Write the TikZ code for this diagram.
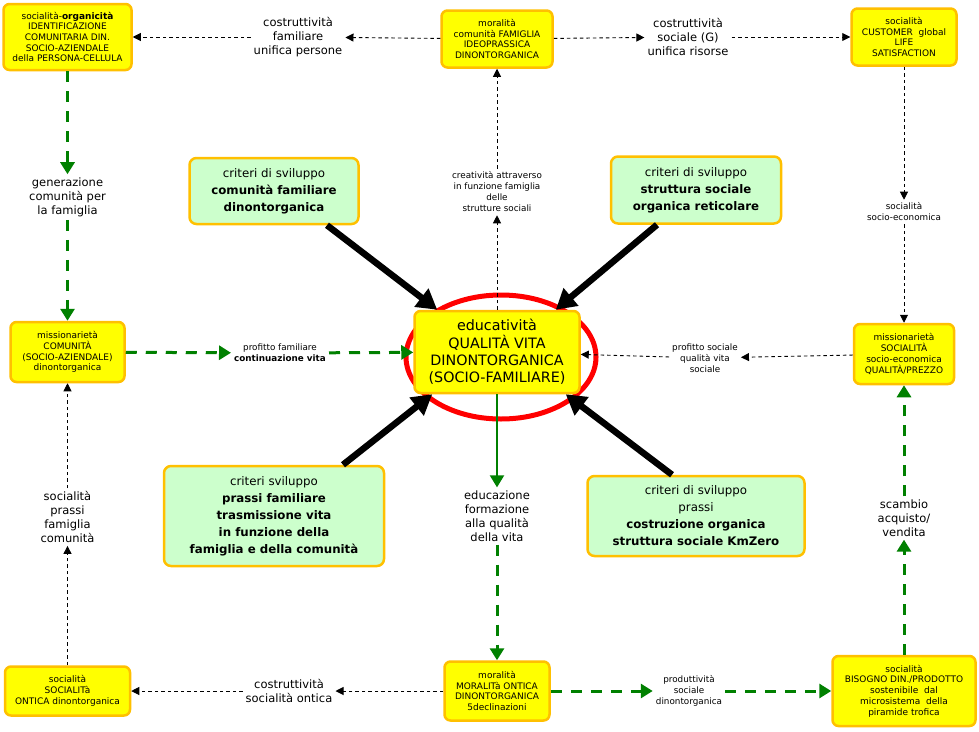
\documentclass[tikz,border=0pt]{standalone}
\usepackage{fontspec}
\setmainfont{DejaVu Sans}
\usetikzlibrary{arrows.meta}
\definecolor{ybord}{HTML}{FFC000}
\definecolor{yfill}{HTML}{FFFF00}
\definecolor{gfill}{HTML}{CCFFCC}
\definecolor{garrow}{HTML}{008000}
\definecolor{ered}{HTML}{FF0000}
\tikzset{
  ybox/.style={draw=ybord, fill=yfill, line width=2.5pt, rounded corners=6pt, align=center, inner sep=1pt, font=\fontsize{9}{10.7}\selectfont},
  gbox/.style={draw=ybord, fill=gfill, line width=2.5pt, rounded corners=7pt, align=center, inner sep=1pt, font=\fontsize{11.8}{17}\selectfont},
  cbox/.style={draw=ybord, fill=yfill, line width=2.5pt, rounded corners=6pt, align=center, inner sep=1pt, font=\fontsize{14.3}{17.3}\selectfont},
  lab/.style={align=center, inner sep=3pt, font=\fontsize{11.5}{14}\selectfont},
  slab/.style={align=center, inner sep=3pt, font=\fontsize{8.8}{11}\selectfont},
  blk/.style={black, line width=0.9pt, dash pattern=on 3.5pt off 3pt},
  blkarr/.style={blk, -{Triangle[length=8pt,width=8pt]}},
  grn/.style={garrow, line width=3pt, dash pattern=on 11pt off 9pt},
  grnarr/.style={grn, -{Triangle[length=12pt,width=14pt]}},
  grnsolid/.style={garrow, line width=2pt, -{Triangle[length=12pt,width=14pt]}},
  big/.style={black, line width=6.5pt, -{Triangle[length=20pt,width=22pt]}}
}
\begin{document}
\begin{tikzpicture}[x=1pt,y=-1pt]
\useasboundingbox (0,0) rectangle (979,731);
\fill[white] (0,0) rectangle (979,731);

% ellipse around centre
\draw[ered, line width=5pt] (501,357) ellipse [x radius=95, y radius=62];

% yellow boxes
\node[ybox, minimum width=128, minimum height=66] (tl) at (67.5,37)
  {socialità-\textbf{organicità}\\IDENTIFICAZIONE\\COMUNITARIA DIN.\\SOCIO-AZIENDALE\\della PERSONA-CELLULA};
\node[ybox, minimum width=111, minimum height=57] (tm) at (497,39)
  {moralità\\comunità FAMIGLIA\\IDEOPRASSICA\\DINONTORGANICA};
\node[ybox, minimum width=105, minimum height=57] (tr) at (904,37)
  {socialità\\CUSTOMER~ global\\LIFE\\SATISFACTION};
\node[ybox, minimum width=114, minimum height=60] (ml) at (67.5,352)
  {missionarietà\\COMUNITÀ\\(SOCIO-AZIENDALE)\\dinontorganica};
\node[ybox, minimum width=100, minimum height=60] (mr) at (904,354)
  {missionarietà\\SOCIALITÀ\\socio-economica\\QUALITÀ/PREZZO};
\node[ybox, minimum width=125, minimum height=49] (bl) at (67.5,691)
  {socialità\\SOCIALITà\\ONTICA dinontorganica};
\node[ybox, minimum width=105, minimum height=59] (bm) at (497,691)
  {moralità\\MORALITà ONTICA\\DINONTORGANICA\\5declinazioni};
\node[ybox, minimum width=143, minimum height=70] (br) at (904,691)
  {socialità\\BISOGNO DIN./PRODOTTO\\sostenibile~ dal\\microsistema~ della\\piramide trofica};
\node[cbox, minimum width=165, minimum height=82] (c) at (497,352)
  {educatività\\QUALITÀ VITA\\DINONTORGANICA\\(SOCIO-FAMILIARE)};

% green boxes
\node[gbox, minimum width=169, minimum height=66] (g1) at (274,191)
  {criteri di sviluppo\\\textbf{comunità familiare}\\\textbf{dinontorganica}};
\node[gbox, minimum width=170, minimum height=67] (g2) at (696,190)
  {criteri di sviluppo\\\textbf{struttura sociale}\\\textbf{organica reticolare}};
\node[gbox, minimum width=220, minimum height=100] (g3) at (274,516)
  {criteri sviluppo\\\textbf{prassi familiare}\\\textbf{trasmissione vita}\\\textbf{in funzione della}\\\textbf{famiglia e della comunità}};
\node[gbox, minimum width=217, minimum height=80] (g4) at (696,516)
  {criteri di sviluppo\\prassi\\\textbf{costruzione organica}\\\textbf{struttura sociale KmZero}};

% labels
\node[lab] (l1) at (298,37) {costruttività\\familiare\\unifica persone};
\node[lab] (l2) at (688,37) {costruttività\\sociale (G)\\unifica risorse};
\node[lab] (l3) at (67.5,197) {generazione\\comunità per\\la famiglia};
\node[slab] (l4) at (280,353) {profitto familiare\\\textbf{continuazione vita}};
\node[slab] (l5) at (705,358) {profitto sociale\\qualità vita\\sociale};
\node[slab] (l6) at (497,192) {creatività attraverso\\in funzione famiglia\\delle\\strutture sociali};
\node[slab] (l7) at (904,212) {socialità\\socio-economica};
\node[lab] (l8) at (67.5,517) {socialità\\prassi\\famiglia\\comunità};
\node[lab] (l9) at (904,518) {scambio\\acquisto/\\vendita};
\node[lab] (l10) at (497,516) {educazione\\formazione\\alla qualità\\della vita};
\node[lab] (l11) at (289,691) {costruttività\\socialità ontica};
\node[slab] (l12) at (689,691) {produttività\\sociale\\dinontorganica};

% black dashed connectors
\draw[blkarr] (tm) -- (l1);
\draw[blkarr] (l1) -- (tl);
\draw[blkarr] (tm) -- (l2);
\draw[blkarr] (l2) -- (tr);
\draw[blkarr] (c) -- (l6);
\draw[blkarr] (l6) -- (tm);
\draw[blkarr] (tr) -- (l7);
\draw[blkarr] (l7) -- (mr);
\draw[blkarr] (mr) -- (l5);
\draw[blkarr] (l5) -- (c);
\draw[blkarr] (bl) -- (l8);
\draw[blkarr] (l8) -- (ml);
\draw[blkarr] (bm) -- (l11);
\draw[blkarr] (l11) -- (bl);

% green connectors
\draw[grnarr] (tl) -- (l3);
\draw[grnarr] (l3) -- (ml);
\draw[grnarr] (ml) -- (l4);
\draw[grnarr] (l4) -- (c);
\draw[grnsolid] (c) -- (l10);
\draw[grnarr] (l10) -- (bm);
\draw[grnarr] (bm) -- (l12);
\draw[grnarr] (l12) -- (br);
\draw[grnarr] (br) -- (l9);
\draw[grnarr] (l9) -- (mr);

% big black arrows
\draw[big] ([xshift=53pt]g1.south) -- ([xshift=24pt]c.north west);
\draw[big] ([xshift=-39pt]g2.south) -- ([xshift=-25pt]c.north east);
\draw[big] ([xshift=69pt]g3.north) -- ([xshift=19pt]c.south west);
\draw[big] ([xshift=-24pt]g4.north) -- ([xshift=-15pt]c.south east);
\end{tikzpicture}
\end{document}
